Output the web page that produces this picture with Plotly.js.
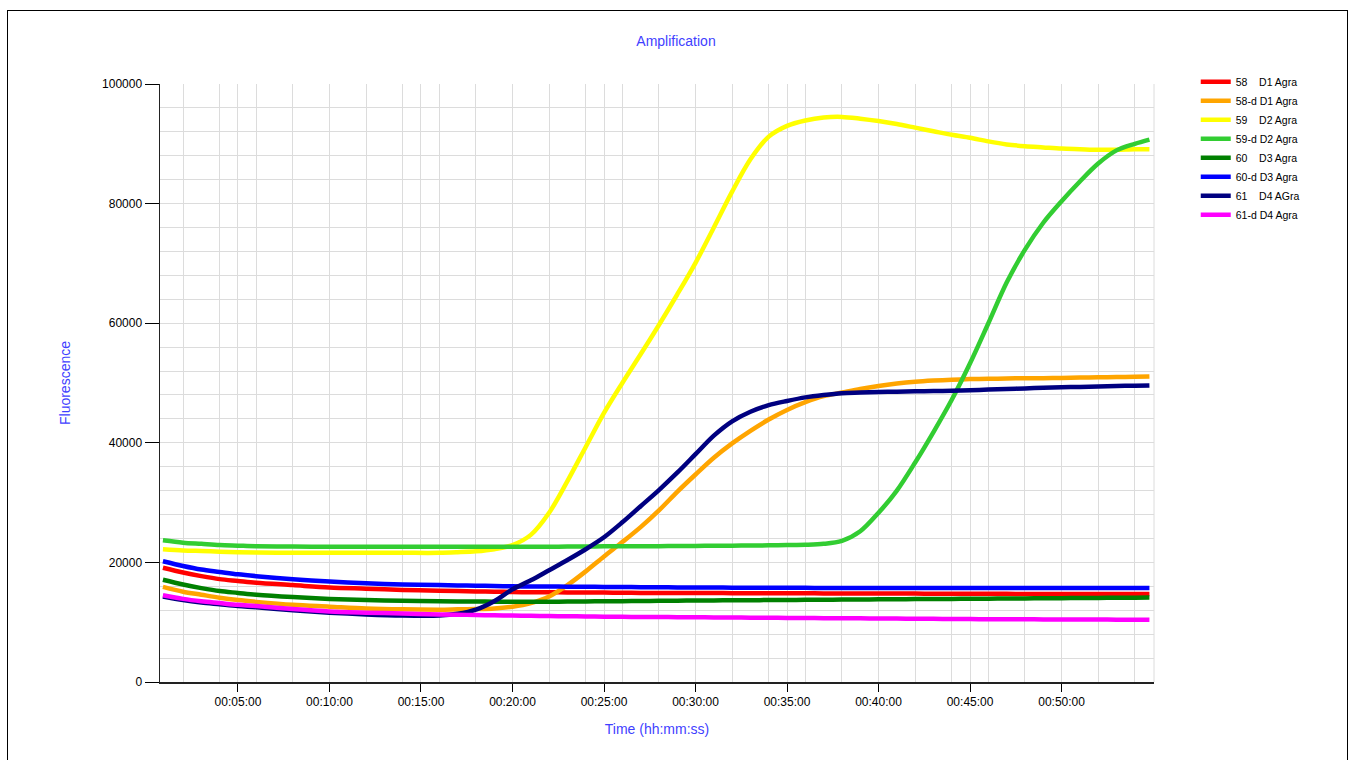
<!DOCTYPE html>
<html>
<head>
<meta charset="utf-8">
<script src="https://cdn.plot.ly/plotly-3.0.1.min.js"></script>
<style>
html,body{margin:0;padding:0;overflow:hidden;background:#fff;}
#chart{width:1352px;height:760px;}
#frame{position:absolute;left:7px;top:10px;width:1339px;height:800px;border:1px solid #000;pointer-events:none;}
</style>
</head>
<body>
<div id="chart"></div>
<div id="frame"></div>
<script>
// time in minutes
const timeMin = [0.9, 2, 3, 4, 5, 6, 8, 10, 12, 14, 16, 17, 18, 19, 20, 21, 22, 23, 24, 25, 26, 27, 28, 29, 30, 31, 32, 33, 34, 35, 36, 37, 38, 39, 40, 41, 42, 43, 44, 45, 46, 47, 48, 49, 50, 51, 52, 53, 54, 54.8];

const s58 = [19100, 18300, 17700, 17200, 16900, 16600, 16200, 15800, 15600, 15400, 15250, 15200, 15150, 15100, 15050, 15000, 15000, 14980, 14950, 14950, 14930, 14900, 14900, 14900, 14880, 14870, 14860, 14850, 14850, 14840, 14830, 14820, 14810, 14800, 14800, 14790, 14780, 14770, 14760, 14750, 14750, 14740, 14730, 14720, 14720, 14710, 14700, 14700, 14700, 14700];
const s58d = [15900, 15100, 14600, 14100, 13700, 13400, 12900, 12600, 12300, 12150, 12100, 12150, 12200, 12300, 12600, 13200, 14300, 16200, 18500, 21000, 23400, 25900, 28700, 31800, 34700, 37500, 39900, 42000, 43900, 45500, 46800, 47800, 48400, 49000, 49500, 49900, 50200, 50400, 50550, 50650, 50700, 50750, 50800, 50800, 50850, 50900, 50950, 51000, 51050, 51100];
const s59 = [22200, 22000, 21900, 21800, 21700, 21650, 21600, 21600, 21600, 21600, 21600, 21700, 21850, 22200, 22900, 24600, 28300, 33600, 39300, 45000, 50000, 54800, 59700, 64800, 70100, 76000, 82000, 87400, 91200, 93000, 93900, 94400, 94500, 94200, 93800, 93300, 92700, 92100, 91500, 91000, 90400, 89900, 89600, 89400, 89200, 89100, 89000, 89000, 89100, 89100];
const s59d = [23700, 23300, 23100, 22900, 22800, 22700, 22650, 22600, 22600, 22600, 22600, 22600, 22600, 22600, 22600, 22600, 22620, 22640, 22660, 22680, 22700, 22700, 22720, 22740, 22760, 22780, 22800, 22820, 22850, 22900, 22950, 23100, 23600, 25200, 28300, 32000, 36700, 41800, 47200, 53300, 60000, 66800, 72300, 76800, 80400, 83700, 86700, 88900, 90000, 90700];
const s60 = [17100, 16300, 15700, 15200, 14900, 14600, 14200, 13900, 13700, 13600, 13500, 13480, 13460, 13440, 13420, 13420, 13430, 13450, 13470, 13500, 13520, 13550, 13580, 13600, 13620, 13640, 13660, 13680, 13700, 13720, 13740, 13760, 13780, 13800, 13820, 13840, 13860, 13880, 13900, 13920, 13940, 13960, 13980, 14000, 14020, 14040, 14060, 14080, 14100, 14120];
const s60d = [20200, 19400, 18800, 18400, 18000, 17700, 17200, 16800, 16500, 16300, 16200, 16150, 16100, 16050, 16000, 15980, 15960, 15940, 15920, 15900, 15880, 15860, 15840, 15820, 15800, 15790, 15780, 15770, 15760, 15750, 15740, 15730, 15720, 15710, 15700, 15700, 15700, 15700, 15700, 15700, 15700, 15700, 15700, 15700, 15700, 15700, 15700, 15700, 15700, 15700];
const s61 = [14300, 13700, 13300, 13000, 12700, 12500, 12000, 11600, 11300, 11100, 11100, 11400, 12100, 13500, 15500, 17000, 18700, 20400, 22200, 24200, 26700, 29400, 32100, 35000, 38100, 41200, 43600, 45200, 46300, 47000, 47600, 48000, 48300, 48400, 48500, 48550, 48600, 48650, 48700, 48800, 48900, 49000, 49100, 49200, 49300, 49350, 49400, 49500, 49550, 49600];
const s61d = [14500, 13900, 13500, 13200, 12900, 12700, 12200, 11800, 11600, 11450, 11300, 11250, 11200, 11150, 11100, 11060, 11020, 10990, 10960, 10930, 10900, 10880, 10860, 10840, 10820, 10800, 10780, 10760, 10740, 10720, 10700, 10680, 10660, 10640, 10620, 10600, 10580, 10560, 10540, 10520, 10500, 10490, 10480, 10470, 10460, 10450, 10440, 10430, 10420, 10400];

const seriesNames = ["58\u00a0\u00a0\u00a0\u00a0D1 Agra", "58-d D1 Agra", "59\u00a0\u00a0\u00a0\u00a0D2 Agra", "59-d D2 Agra", "60\u00a0\u00a0\u00a0\u00a0D3 Agra", "60-d D3 Agra", "61\u00a0\u00a0\u00a0\u00a0D4 AGra", "61-d D4 Agra"];
const seriesValues = [s58, s58d, s59, s59d, s60, s60d, s61, s61d];
const seriesColors = ["#ff0000", "#ffa500", "#ffff00", "#32cd32", "#008000", "#0000ff", "#000080", "#ff00ff"];

const xTickVals = [5, 10, 15, 20, 25, 30, 35, 40, 45, 50];
const xTickText = ["00:05:00", "00:10:00", "00:15:00", "00:20:00", "00:25:00", "00:30:00", "00:35:00", "00:40:00", "00:45:00", "00:50:00"];

const traces = seriesValues.map((vals, i) => ({
  type: "scatter",
  mode: "lines",
  x: timeMin,
  y: vals,
  name: seriesNames[i],
  line: {color: seriesColors[i], width: 4.5, shape: "spline", smoothing: 0.9}
}));

const FONT = "Liberation Sans, Arial, sans-serif";
const TITLE_COLOR = "#3f3fff";
const layout = {
  width: 1352,
  height: 760,
  paper_bgcolor: "rgba(0,0,0,0)",
  plot_bgcolor: "#ffffff",
  margin: {l: 160, r: 198, t: 84, b: 78, pad: 0},
  font: {family: FONT, size: 12, color: "#000"},
  title: {text: "Amplification", font: {family: FONT, size: 14, color: TITLE_COLOR}, x: 0.5, xanchor: "center", y: 1 - 41/760, yanchor: "middle"},
  showlegend: true,
  legend: {
    x: 1.042, xanchor: "left", y: 1.028, yanchor: "top",
    font: {family: FONT, size: 10.5, color: "#000"},
    bgcolor: "rgba(0,0,0,0)", borderwidth: 0, itemwidth: 30, tracegroupgap: 0
  },
  xaxis: {
    range: [0.74, 55.05],
    tickmode: "array", tickvals: xTickVals, ticktext: xTickText,
    ticks: "outside", ticklen: 8, tickwidth: 1, tickcolor: "#000",
    tickfont: {family: FONT, size: 12, color: "#000"},
    showline: true, linecolor: "#222", linewidth: 1.5,
    showgrid: true, gridcolor: "#dcdcdc", gridwidth: 1,
    zeroline: false,
    minor: {tickmode: "linear", tick0: 0, dtick: 2, showgrid: true, gridcolor: "#dcdcdc", gridwidth: 1, ticks: ""},
    title: {text: "Time (hh:mm:ss)", font: {family: FONT, size: 14, color: TITLE_COLOR}, standoff: 16}
  },
  yaxis: {
    range: [0, 100000],
    tickmode: "linear", tick0: 0, dtick: 20000, tickformat: "d",
    ticks: "outside", ticklen: 14, tickwidth: 1, tickcolor: "#000",
    tickfont: {family: FONT, size: 12, color: "#000"},
    showline: true, linecolor: "#222", linewidth: 1.5,
    showgrid: true, gridcolor: "#dcdcdc", gridwidth: 1,
    zeroline: false,
    minor: {tickmode: "linear", tick0: 0, dtick: 4000, showgrid: true, gridcolor: "#dcdcdc", gridwidth: 1, ticks: ""},
    title: {text: "Fluorescence", font: {family: FONT, size: 14, color: TITLE_COLOR}, standoff: 28}
  },
  shapes: [
    {type: "line", xref: "paper", yref: "paper", x0: 1, x1: 1, y0: 0, y1: 1, line: {color: "#dcdcdc", width: 1}, layer: "below"}
  ]
};

Plotly.newPlot("chart", traces, layout, {displayModeBar: false, staticPlot: true});
</script>
</body>
</html>
